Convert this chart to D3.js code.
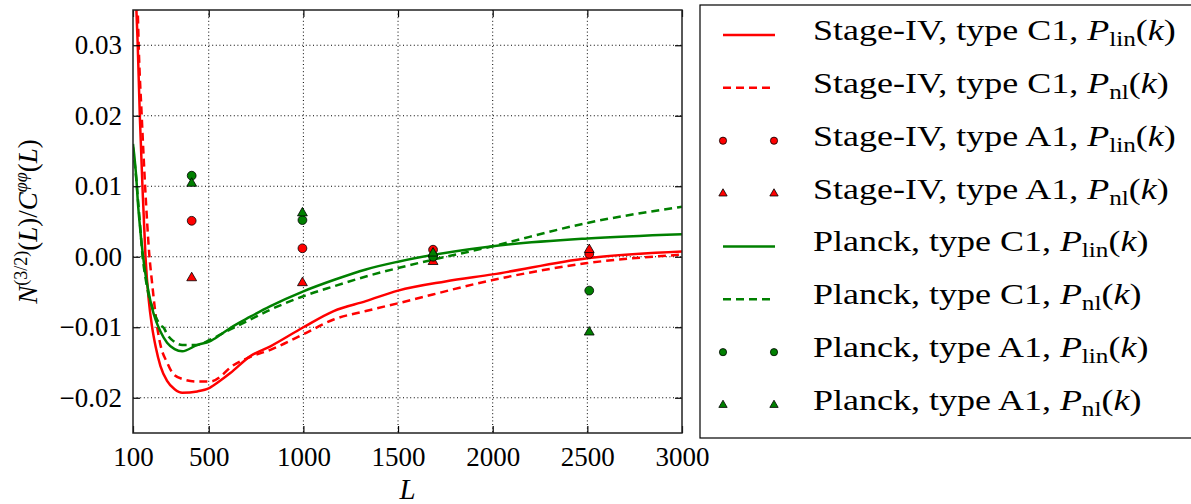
<!DOCTYPE html>
<html>
<head>
<meta charset="utf-8">
<script src="https://cdn.jsdelivr.net/npm/d3@7"></script>
<style>
  body { margin: 0; background: #fff; }
  svg text { font-family: "Liberation Serif", serif; fill: #000; }
</style>
</head>
<body>
<svg id="chart" width="1191" height="504"></svg>
<script>
// ---- data ----
const xTicks = [100, 500, 1000, 1500, 2000, 2500, 3000];
const yTicks = [-0.02, -0.01, 0.00, 0.01, 0.02, 0.03];

// type C1 curves
const s4LinL = [100, 110, 118, 125, 136, 150, 166, 183, 200, 220, 245, 280, 320, 360, 440, 505, 560, 614, 720, 826, 1000, 1160, 1330, 1500, 1750, 2000, 2500, 3000];
const s4Lin  = [0.052, 0.041, 0.035, 0.030, 0.020, 0.010, 0.000, -0.0061, -0.0098, -0.0128, -0.0155, -0.0176, -0.0188, -0.0193, -0.0191, -0.0186, -0.0176, -0.0165, -0.0141, -0.0127, -0.0100, -0.0077, -0.0063, -0.0048, -0.0035, -0.0025, -0.0002, 0.00075];

const s4NlL = [100, 110, 118, 125, 130, 146, 164, 187, 200, 228, 245, 280, 315, 368, 440, 509, 562, 614, 720, 826, 1000, 1160, 1330, 1500, 2000, 2500, 3000];
const s4Nl  = [0.060, 0.047, 0.040, 0.035, 0.030, 0.020, 0.010, 0.000, -0.0035, -0.0100, -0.0125, -0.0150, -0.0167, -0.0174, -0.0177, -0.0177, -0.0170, -0.0157, -0.0142, -0.0132, -0.0110, -0.0089, -0.0077, -0.0066, -0.0033, -0.0009, 0.0003];

const plLinL = [100, 110, 118, 125, 136, 150, 166, 183, 200, 220, 245, 280, 320, 360, 440, 505, 560, 614, 720, 826, 1000, 1160, 1330, 1500, 2000, 2500, 3000];
const plLin  = [0.0160, 0.0135, 0.0110, 0.0080, 0.0045, 0.0008, -0.0025, -0.0051, -0.0072, -0.0090, -0.0106, -0.0122, -0.0131, -0.0134, -0.0125, -0.0120, -0.0111, -0.0101, -0.0085, -0.0070, -0.0049, -0.0033, -0.0018, -0.0007, 0.0015, 0.0026, 0.0032];

const plNlL = [100, 110, 118, 125, 136, 150, 166, 183, 200, 220, 245, 263, 280, 315, 360, 440, 505, 614, 720, 826, 1000, 1160, 1330, 1500, 2000, 2500, 3000];
const plNl  = [0.0155, 0.0130, 0.0108, 0.0085, 0.0050, 0.0002, -0.0030, -0.0055, -0.0070, -0.0085, -0.0097, -0.0101, -0.0110, -0.0120, -0.0125, -0.0125, -0.0118, -0.0103, -0.0089, -0.0075, -0.0056, -0.0042, -0.0028, -0.0016, 0.0015, 0.0048, 0.0071];

// type A1 points
const pointL   = [410, 995, 1685, 2510];
const s4A1Lin  = [0.0051, 0.0012, 0.0010, 0.0004];
const s4A1Nl   = [-0.0030, -0.0037, -0.0007, 0.0010];
const plA1Lin  = [0.0115, 0.0052, 0.0000, -0.0048];
const plA1Nl   = [0.0104, 0.0062, 0.0005, -0.0107];

const legendNames = [
  ["Stage-IV, type C1, ", "lin"],
  ["Stage-IV, type C1, ", "nl"],
  ["Stage-IV, type A1, ", "lin"],
  ["Stage-IV, type A1, ", "nl"],
  ["Planck, type C1, ", "lin"],
  ["Planck, type C1, ", "nl"],
  ["Planck, type A1, ", "lin"],
  ["Planck, type A1, ", "nl"]
];

const RED = "#ff0000", GREEN = "#008000";

const svg = d3.select("#chart");
const mLeft = 133, mRight = 682, mTop = 10, mBottom = 433;

const x = d3.scaleLinear().domain([100, 3000]).range([mLeft, mRight]);
const y = d3.scaleLinear().domain([-0.025, 0.035]).range([mBottom, mTop]);

// grid
const grid = svg.append("g")
  .attr("stroke", "#000")
  .attr("stroke-width", 1)
  .attr("stroke-dasharray", "1,2.6");
grid.selectAll("line.v")
  .data(xTicks.slice(1, -1))
  .join("line")
  .attr("class", "v")
  .attr("x1", d => x(d)).attr("x2", d => x(d))
  .attr("y1", mTop).attr("y2", mBottom);
grid.selectAll("line.h")
  .data(yTicks)
  .join("line")
  .attr("class", "h")
  .attr("x1", mLeft).attr("x2", mRight)
  .attr("y1", d => y(d)).attr("y2", d => y(d));

svg.append("clipPath").attr("id", "clip")
  .append("rect")
  .attr("x", mLeft).attr("y", mTop)
  .attr("width", mRight - mLeft).attr("height", mBottom - mTop);

const plot = svg.append("g").attr("clip-path", "url(#clip)");

const line = d3.line()
  .x(d => x(d[0]))
  .y(d => y(d[1]))
  .curve(d3.curveMonotoneX);

const curves = [
  { L: s4LinL, v: s4Lin, color: RED, dash: null },
  { L: s4NlL, v: s4Nl, color: RED, dash: "8,5" },
  { L: plLinL, v: plLin, color: GREEN, dash: null },
  { L: plNlL, v: plNl, color: GREEN, dash: "8,5" }
];

curves.forEach(c => {
  plot.append("path")
    .datum(d3.zip(c.L, c.v))
    .attr("fill", "none")
    .attr("stroke", c.color)
    .attr("stroke-width", 2.5)
    .attr("stroke-dasharray", c.dash)
    .attr("d", line);
});

const tri = d3.symbol().type(d3.symbolTriangle);
const sets = [
  { v: s4A1Lin, color: RED, shape: "circle" },
  { v: s4A1Nl, color: RED, shape: "triangle" },
  { v: plA1Lin, color: GREEN, shape: "circle" },
  { v: plA1Nl, color: GREEN, shape: "triangle" }
];

function drawMarker(g, shape, color, cx, cy, big) {
  if (shape === "circle") {
    g.append("circle")
      .attr("cx", cx).attr("cy", cy)
      .attr("r", big ? 4.4 : 3.6)
      .attr("fill", color).attr("stroke", "#000").attr("stroke-width", 0.8);
  } else {
    g.append("path")
      .attr("d", tri.size(big ? 42 : 30)())
      .attr("transform", `translate(${cx},${cy})`)
      .attr("fill", color).attr("stroke", "#000").attr("stroke-width", 0.8);
  }
}

sets.forEach(s => {
  s.v.forEach((val, i) => drawMarker(plot, s.shape, s.color, x(pointL[i]), y(val), true));
});

// axes (ticks pointing inwards on all four sides)
const fmt = d3.format(".2f");
const xAxis = svg.append("g")
  .attr("transform", `translate(0,${mBottom})`)
  .call(d3.axisBottom(x).tickValues(xTicks).tickSizeInner(-7).tickSizeOuter(0).tickPadding(14).tickFormat(d3.format("d")));
const yAxis = svg.append("g")
  .attr("transform", `translate(${mLeft},0)`)
  .call(d3.axisLeft(y).tickValues(yTicks).tickSizeInner(-7).tickSizeOuter(0).tickPadding(11).tickFormat(fmt));
svg.append("g")
  .attr("transform", `translate(0,${mTop})`)
  .call(d3.axisTop(x).tickValues(xTicks).tickSizeInner(-7).tickSizeOuter(0).tickFormat(""));
svg.append("g")
  .attr("transform", `translate(${mRight},0)`)
  .call(d3.axisRight(y).tickValues(yTicks).tickSizeInner(-7).tickSizeOuter(0).tickFormat(""));

svg.selectAll(".domain").remove();
svg.selectAll(".tick line").attr("stroke", "#000").attr("stroke-width", 1.2);
[xAxis, yAxis].forEach(a => a.selectAll("text")
  .attr("font-family", "Liberation Serif")
  .attr("font-size", 27)
  .attr("fill", "#000"));

svg.append("rect")
  .attr("x", mLeft).attr("y", mTop)
  .attr("width", mRight - mLeft).attr("height", mBottom - mTop)
  .attr("fill", "none")
  .attr("stroke", "#222")
  .attr("stroke-width", 1.5);

// axis labels
svg.append("text")
  .attr("x", (mLeft + mRight) / 2).attr("y", 499)
  .attr("text-anchor", "middle")
  .attr("font-size", 29)
  .attr("font-style", "italic")
  .text("L");

const yl = svg.append("text")
  .attr("transform", `translate(37,${(mTop + mBottom) / 2}) rotate(-90)`)
  .attr("text-anchor", "middle")
  .attr("font-size", 27);
yl.append("tspan").attr("font-style", "italic").text("N");
yl.append("tspan").attr("font-size", 18).attr("dy", -10).text("(3/2)");
yl.append("tspan").attr("dy", 10).text("(");
yl.append("tspan").attr("font-style", "italic").text("L");
yl.append("tspan").text(")/");
yl.append("tspan").attr("font-style", "italic").text("C");
yl.append("tspan").attr("font-size", 18).attr("font-style", "italic").attr("dy", -10).text("φφ");
yl.append("tspan").attr("dy", 10).text("(");
yl.append("tspan").attr("font-style", "italic").text("L");
yl.append("tspan").text(")");

// legend
const lg = svg.append("g");
lg.append("rect")
  .attr("x", 700).attr("y", 5)
  .attr("width", 500).attr("height", 433)
  .attr("fill", "#fff")
  .attr("stroke", "#000")
  .attr("stroke-width", 1.2);

const rowY = d3.scaleLinear().domain([0, 7]).range([35, 405]);
const handles = [
  { type: "line", color: RED, dash: null },
  { type: "line", color: RED, dash: "8,5" },
  { type: "circle", color: RED },
  { type: "triangle", color: RED },
  { type: "line", color: GREEN, dash: null },
  { type: "line", color: GREEN, dash: "8,5" },
  { type: "circle", color: GREEN },
  { type: "triangle", color: GREEN }
];

legendNames.forEach((nm, i) => {
  const yy = rowY(i);
  const h = handles[i];
  if (h.type === "line") {
    lg.append("line")
      .attr("x1", 723).attr("x2", 775)
      .attr("y1", yy).attr("y2", yy)
      .attr("stroke", h.color).attr("stroke-width", 2.5)
      .attr("stroke-dasharray", h.dash);
  } else {
    drawMarker(lg, h.type, h.color, 723, yy, false);
    drawMarker(lg, h.type, h.color, 774, yy, false);
  }
  // the original LaTeX font is wider than Times, stretch a bit
  const t = lg.append("text")
    .attr("transform", `translate(813,${yy + 5}) scale(1.2,1)`)
    .attr("font-size", 30);
  t.append("tspan").text(nm[0]);
  t.append("tspan").attr("font-style", "italic").text("P");
  t.append("tspan").attr("font-size", 21).attr("dy", 6).text(nm[1]);
  t.append("tspan").attr("dy", -6).text("(");
  t.append("tspan").attr("font-style", "italic").text("k");
  t.append("tspan").text(")");
});
</script>
</body>
</html>
